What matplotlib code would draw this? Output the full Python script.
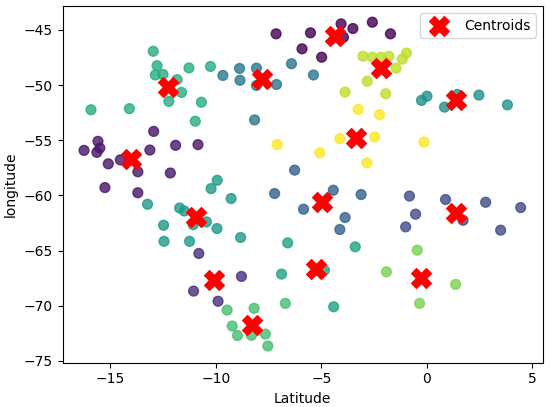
import matplotlib
matplotlib.use("Agg")
import matplotlib.pyplot as plt
import numpy as np

# Data points (Latitude, longitude) and cluster labels
lat = [
    # cluster 0
    -7.14, -5.91, -5.51, -4.98, -4.06, -3.50, -2.58, -1.72, -3.95,
    # cluster 1
    -12.94, -15.58, -16.24, -15.49, -15.63, -15.09, -14.52, -13.12, -11.90, -10.84, -13.69, -12.15, -15.25, -13.69,
    # cluster 2
    -10.80, -8.78, -11.05, -9.89,
    # cluster 3
    -0.82, -0.53, -1.00, 0.89, 2.79, 4.45, 1.72, 3.50,
    # cluster 4
    -4.43, -3.11, -5.84, -3.87, -4.12, -7.21, -6.26,
    # cluster 5
    -9.66, -8.87, -8.85, -8.07, -8.07, -7.12, -8.16, -6.41, -5.37,
    # cluster 6
    -0.25, 0.01, 0.84, 1.45, 2.47, 3.82,
    # cluster 7
    -13.23, -11.71, -11.49, -12.47, -12.45, -11.24, -11.07, -10.44, -9.94, -10.22, -9.93, -9.27, -8.82,
    # cluster 8
    -6.59, -3.39, -6.88, -4.85, -4.41,
    # cluster 9
    -12.96, -12.78, -12.86, -12.50, -11.83, -11.62, -12.22, -11.27, -10.25, -10.68, -10.97, -15.91, -14.09,
    # cluster 10
    -9.46, -8.18, -9.22, -8.97, -8.31, -7.65, -7.53, -6.70,
    # cluster 11
    -0.45, -1.91, 1.37, -0.34,
    # cluster 12
    -3.02, -2.58, -2.19, -1.80, -0.96, -1.16, -1.46, -2.82, -3.87, -1.95,
    # cluster 13
    -3.25, -2.24, -4.12, -2.47, -5.07, -2.84, -0.13, -7.09,
]
lon = [
    -45.36, -46.72, -45.27, -47.48, -44.46, -44.88, -44.31, -45.36, -45.67,
    -54.20, -55.10, -55.92, -55.71, -56.10, -57.14, -56.78, -55.89, -55.46, -55.40, -57.86, -57.97, -59.29, -59.76,
    -65.26, -67.34, -68.67, -69.59,
    -60.06, -61.70, -62.85, -60.37, -60.62, -61.10, -62.25, -63.15,
    -59.53, -59.92, -61.25, -62.00, -63.09, -59.83, -57.71,
    -49.13, -48.50, -49.57, -48.47, -50.04, -49.95, -53.16, -48.07, -49.09,
    -51.39, -51.01, -52.00, -50.85, -50.91, -51.80,
    -60.80, -61.14, -61.41, -62.70, -64.16, -64.16, -62.65, -62.40, -63.00, -59.38, -58.63, -60.28, -63.81,
    -64.30, -64.66, -67.13, -66.77, -70.09,
    -46.94, -48.25, -49.09, -49.04, -49.51, -50.67, -51.48, -48.45, -48.32, -51.56, -53.28, -52.24, -52.14,
    -70.39, -70.23, -71.83, -72.69, -72.67, -72.56, -73.64, -69.78,
    -64.96, -66.92, -68.06, -69.78,
    -47.39, -47.48, -47.48, -47.39, -47.10, -47.66, -48.47, -49.66, -50.64, -50.79,
    -52.21, -52.69, -54.86, -54.71, -56.14, -57.05, -55.17, -55.39,
]
cluster_sizes = [9, 14, 4, 8, 7, 9, 6, 13, 5, 13, 8, 4, 10, 8]
labels = [k for k, n in enumerate(cluster_sizes) for _ in range(n)]

# Centroids
cent_lat = [-4.33, -14.00, -10.10, 1.37, -4.96, -7.80, 1.37, -10.92, -5.23, -12.28, -8.26, -0.29, -2.16, -3.33]
cent_lon = [-45.52, -56.67, -67.67, -61.55, -60.56, -49.49, -51.33, -61.95, -66.71, -50.19, -71.74, -67.49, -48.44, -54.79]

# style: position of each cluster's colour along the viridis map
cluster_shade = [0.0, 0.06, 0.14, 0.23, 0.31, 0.40, 0.50, 0.54, 0.58, 0.62, 0.70, 0.80, 0.90, 1.0]
cmap = plt.get_cmap("viridis")
point_colors = [cmap(cluster_shade[k]) for k in labels]

fig = plt.figure(figsize=(5.5, 4.07), dpi=100)
ax = fig.add_axes([0.114, 0.109, 0.873, 0.876])

ax.scatter(lat, lon, c=point_colors, s=50, alpha=0.8)
ax.scatter(cent_lat, cent_lon, marker="X", s=200, c="red", label="Centroids")

ax.set_xlim(-17.25, 5.5)
ax.set_ylim(-75.15, -42.85)
ax.set_xlabel("Latitude")
ax.set_ylabel("longitude")
ax.legend(loc="upper right")

fig.savefig("out.png", dpi=100)
